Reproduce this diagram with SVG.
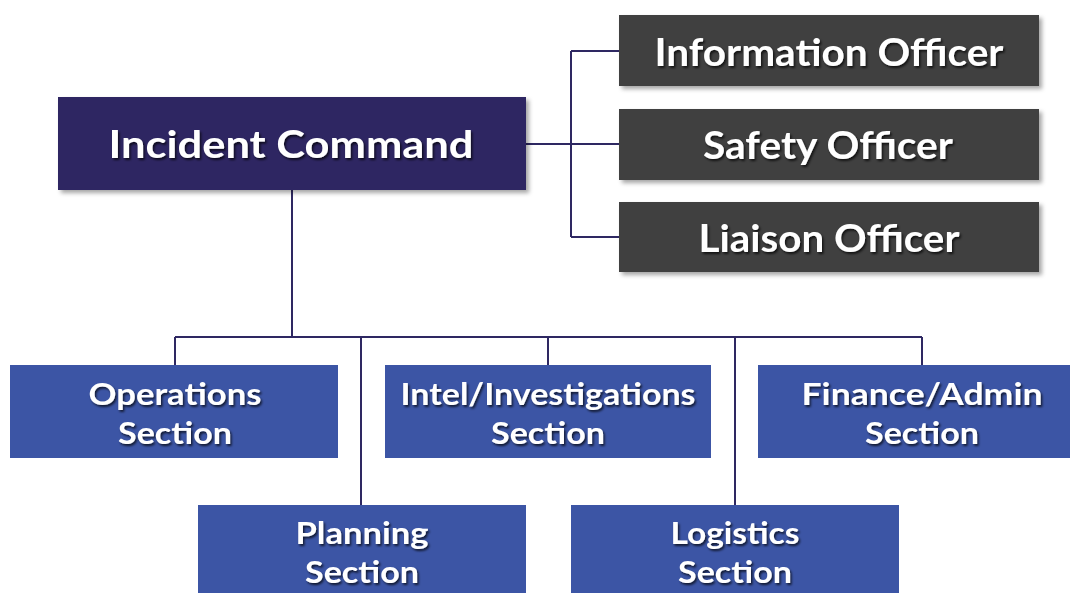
<svg xmlns="http://www.w3.org/2000/svg" width="1070" height="593" viewBox="0 0 1070 593">
  <defs>
    <filter id="boxShadow" x="-10%" y="-20%" width="130%" height="150%">
      <feDropShadow dx="3" dy="3" stdDeviation="2" flood-color="#000" flood-opacity="0.35"/>
    </filter>
    <filter id="textShadow" x="-10%" y="-30%" width="120%" height="160%">
      <feDropShadow dx="1.5" dy="2" stdDeviation="1" flood-color="#000" flood-opacity="0.7"/>
    </filter>
  </defs>
  <style>
    .cmd { fill: #2E2862; filter: url(#boxShadow); }
    .off { fill: #404040; filter: url(#boxShadow); }
    .sec { fill: #3C55A5; }
    .lbl { font-family: "Century Gothic", "Lato", "Noto Sans", sans-serif; font-weight: bold; fill: #ffffff; text-anchor: middle; filter: url(#textShadow); }
    .big { font-size: 38px; }
    .mid { font-size: 31px; }
    .conn { stroke: #2E2862; stroke-width: 2; fill: none; }
  </style>
  <rect width="1070" height="593" fill="#ffffff"/>

  <g id="connectors">
    <path class="conn" d="M526 144 H571"/>
    <path class="conn" d="M571 51 V237"/>
    <path class="conn" d="M571 51 H619 M571 144 H619 M571 237 H619"/>
    <path class="conn" d="M292 190 V337"/>
    <path class="conn" d="M175 337 H922"/>
    <path class="conn" d="M175 337 V365 M548 337 V365 M922 337 V365 M361 337 V505 M735 337 V505"/>
  </g>

  <g id="incident-command">
    <rect class="cmd" x="58" y="97" width="468" height="93"/>
    <text class="lbl big" x="291" y="158" textLength="365" lengthAdjust="spacingAndGlyphs">Incident Command</text>
  </g>

  <g id="information-officer">
    <rect class="off" x="619" y="15" width="420" height="71"/>
    <text class="lbl big" x="829" y="66" textLength="349" lengthAdjust="spacingAndGlyphs">Information Officer</text>
  </g>
  <g id="safety-officer">
    <rect class="off" x="619" y="109" width="420" height="71"/>
    <text class="lbl big" x="828" y="159" textLength="250" lengthAdjust="spacingAndGlyphs">Safety Officer</text>
  </g>
  <g id="liaison-officer">
    <rect class="off" x="619" y="202" width="420" height="70"/>
    <text class="lbl big" x="829" y="252" textLength="261" lengthAdjust="spacingAndGlyphs">Liaison Officer</text>
  </g>

  <g id="operations-section">
    <rect class="sec" x="10" y="365" width="328" height="93"/>
    <text class="lbl mid" x="175" y="405" textLength="173" lengthAdjust="spacingAndGlyphs">Operations</text>
    <text class="lbl mid" x="175" y="444" textLength="114" lengthAdjust="spacingAndGlyphs">Section</text>
  </g>
  <g id="intel-section">
    <rect class="sec" x="385" y="365" width="326" height="93"/>
    <text class="lbl mid" x="548" y="405" textLength="295" lengthAdjust="spacingAndGlyphs">Intel/Investigations</text>
    <text class="lbl mid" x="548" y="444" textLength="114" lengthAdjust="spacingAndGlyphs">Section</text>
  </g>
  <g id="finance-section">
    <rect class="sec" x="758" y="365" width="328" height="93"/>
    <text class="lbl mid" x="922" y="405" textLength="241" lengthAdjust="spacingAndGlyphs">Finance/Admin</text>
    <text class="lbl mid" x="922" y="444" textLength="114" lengthAdjust="spacingAndGlyphs">Section</text>
  </g>
  <g id="planning-section">
    <rect class="sec" x="198" y="505" width="328" height="93"/>
    <text class="lbl mid" x="362" y="544" textLength="133" lengthAdjust="spacingAndGlyphs">Planning</text>
    <text class="lbl mid" x="362" y="583" textLength="114" lengthAdjust="spacingAndGlyphs">Section</text>
  </g>
  <g id="logistics-section">
    <rect class="sec" x="571" y="505" width="328" height="93"/>
    <text class="lbl mid" x="735" y="544" textLength="129" lengthAdjust="spacingAndGlyphs">Logistics</text>
    <text class="lbl mid" x="735" y="583" textLength="114" lengthAdjust="spacingAndGlyphs">Section</text>
  </g>
</svg>
